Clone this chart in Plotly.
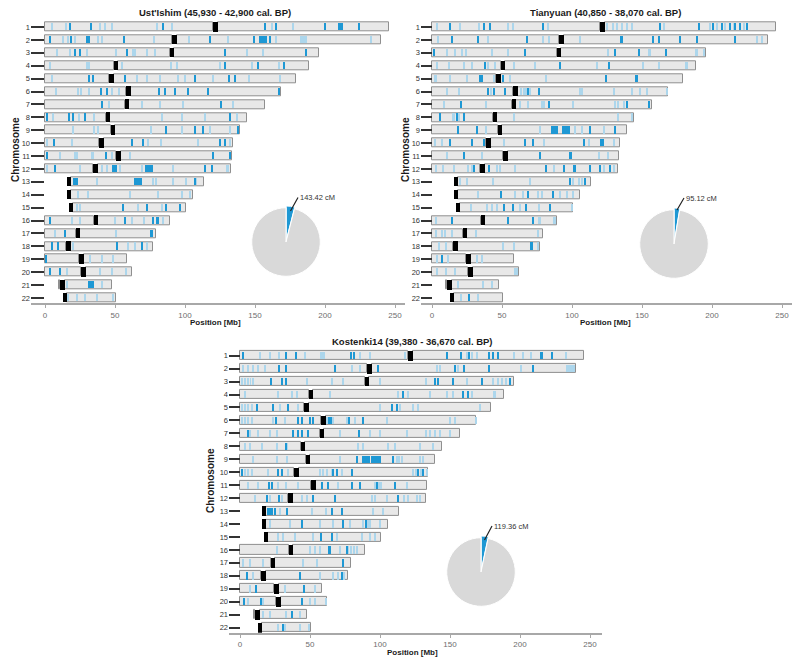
import plotly.graph_objects as go

# ---- chromosome layout (Mb) ----
CHROMS = list(range(1, 23))
CHR_START = [0] * 12 + [15.7, 15.7, 16.8, 0, 0, 0, 0, 0, 9.8, 12.8]
CHR_END = [246, 240, 195.5, 188.5, 179, 168.5, 157, 144, 139, 134, 133.5, 132.5,
           113.5, 105.5, 101, 89, 79.5, 77, 58.5, 62, 47.5, 50.5]
CEN_START = [120, 91, 89, 49, 46, 58, 57, 43.5, 47, 38.7, 51, 34.5,
             15.7, 15.7, 16.8, 34.8, 22, 15, 24.3, 26, 11, 12.8]
CEN_END = [123.4, 94.3, 92.3, 52.2, 49.2, 61.2, 60, 46.5, 50.2, 41.8, 54.2, 37.5,
           18.8, 18.8, 19.8, 37.8, 25.2, 18.5, 27.5, 29.6, 14, 15.8]

# ---- shared segments: single numbers = thin marks, tuples = (start, end) ----
UST_DARK = {
    1: [17.9, 32.6, 84.5, 157, 165, 200, (209.5, 213), 224],
    2: [3.6, 18.3, (29, 32), 56.4, 118, 149, (153, 158.3), 161],
    3: [21.4, 25, 58.8, 128.6, (186, 187)],
    4: [128.6, 152, 171],
    5: [31.7, 34, 57, 107, 131.7, (135, 136.6)],
    6: [40, 44, 81.7, 85.7, 93, 102, 116.7, 167],
    7: [40.5, 126],
    8: [1.2, 17, 19.8, 28.6, 132],
    9: [86.4, 107, 113, 137.6],
    10: [6.4, 62, 70, 125, 128.6],
    11: [1.2, 43.6, 120, 132],
    12: [7, (47.6, 51.2), (71.4, 77.4), 114, 119],
    13: [(20.2, 23.8), (63.8, 69), 107],
    14: [],
    15: [55.5, 72.6, (86, 87), 96.4],
    16: [3.6, 57, 77.4, (79.3, 81.7)],
    17: [14.3, (75, 77)],
    18: [4.8, 9.5, (51, 52.4), 69],
    19: [0.5],
    20: [3.6, 10.7],
    21: [(31, 35)],
    22: [],
}
UST_LIGHT = {
    1: [4.8, 14.8, 39.3, 42.9, 47.6, 79.8, 90.5, 162, 177],
    2: [13, 16.7, 21.4, 38, 41, 77.9, 103, 131, 165, (182, 187), 233],
    3: [8.3, 17.9, 30, 51, (62, 65), 72.6, 78.6, 144, 156],
    4: [3.6, (29, 32), 54.8, 90, 94, 125, 147.6, 167],
    5: [4.8, 65.5, 72.6, 82, 95, 100, 120, 146, 168],
    6: [7.9, 23.8, 26, 31.7, 47.6, 52.9],
    7: [46, 69, 82, 98.8, 134],
    8: [5.5, 24.3, 35, 83.8, 97.6, 114, 137],
    9: [20, 35, 38, 75.5, 97.6, 118, 132],
    10: [(0.7, 2.4), 19, 73.8, 83, 109.5, 132],
    11: [10.7, 21.4, 23, 33.3, 34.5, 47.6, 60.7],
    12: [1.2, (24, 26), 40.5, 44.5, 53.6, 69, 91.7, 130, 131],
    13: [37, 77.4, 79, 91.7, 101, 108],
    14: [23.8, 31, 60.7, 81, 97.6, 103.6],
    15: [22.6, 25, 66.7, 83.3],
    16: [19, 25, 50, 62, 70.7, 84.5],
    17: [7, 51],
    18: [20, 59.5, 64.3, 72.6],
    19: [32, 41, 48.8],
    20: [15.5, 39, 47.6, 58],
    21: [15.5, 40.5],
    22: [16.7, 23, 28.6, 37, 48.8],
}

TIAN_DARK = {
    1: [12.6, 37.4, 41.2, 79.3, 162.6, 191, 201, 207, 213, 216.7, 220, 225],
    2: [14.3, 32.6, 67.9, (134.5, 136.4), 157.9, 162, 177, 189, 216.7],
    3: [(1.2, 2.4), 66.7, 131, 147.6, 167.4],
    4: [38, 91.2, (125.5, 127.4)],
    5: [34.5, 35.7, 50.7, 124.3, (145, 147)],
    6: [39.8, 44, 52.4, 68.6, 76.2],
    7: [(20.2, 21.4), 83.3, 139, (154.8, 156)],
    8: [6, 17.9, 22.6],
    9: [18.3, 32, 85.7, 87, 88.3, 89.3, 93.6, 95, 96.4, 97.6, 113, 131],
    10: [13, 28.6, 36.9, 66.7, 72, 108.3, (120, 122.6)],
    11: [22.6, 77.4, (98, 100)],
    12: [29.8, 40.5, 81.4, 94.5, (101, 103), 112.6, 120, 127.4],
    13: [98.8, 109.5],
    14: [49.5, (67.9, 69), 86.4],
    15: [51.2, 57.9, (67, 67.9), (84, 84.5)],
    16: [14.3, 54, 72],
    17: [],
    18: [(70.7, 72)],
    19: [7],
    20: [],
    21: [],
    22: [26.2],
}
TIAN_LIGHT = {
    1: [3.6, 19.8, 33.8, 54, 57.9, 82.6, 125, 129, 132, 136, 139.5, 143,
        165.5, 198.8, 203.6, 209.5, 215.5, 222.6],
    2: [4, 39.8, 79.3, 83.3, 105.5, 232, 235.7],
    3: [10.7, 16.7, 21.4, 24.5, 42.9, 54, 125.5, 154.8, 156, (188, 190), 194.5],
    4: [3.6, 11.9, 22.6, 28.6, 39.8, 45, 58.3, 73.8, 117.9, 151, 162, (181, 183)],
    5: [(1.2, 3.6), 13, 25, 44, 56, 81.7],
    6: [10.7, 19, 42, 63.6, 65.5, 67.4, 70.2, 106, 107, 129.8, 142.9, 148.8, 153.6, 167.9],
    7: [8.3, 38.8, 63, 68.3, 78.6, 80.2, 101, 131, 133, 137],
    8: [(14.3, 16.5), 19.2, 58.3, 133, 142.9],
    9: [38.8, 77.4, 102, 107, 122.6],
    10: [2.4, 7, 51.2, 79.8, 112, 129.8],
    11: [10.7, 35.7, 119, 126],
    12: [3, 7.9, 15.5, 26, 28.6, 46.4, 48.8, 59.5, 87.4, 122.6, 129.8],
    13: [20.2, 25, 43.6, 70.2, 101, 104.8, 107],
    14: [32.9, 59.5, 65, 75.5, 78.6, 91.7, 96.4, 101],
    15: [27.9, 39.3, 42.9, 46.4, 62.6, 76.2, 100],
    16: [3, 76.2, 77.4, 86.9, 88],
    17: [3, 7, 9.5, 14.3, 31.7, 75.5],
    18: [4.8, 10.2, 50.7, 58.3, 75.5],
    19: [3.6, 11.4, 32, 35.7],
    20: [3.6, 10.2, 16.7, 59.5, 60.7],
    21: [18.3, 36.4, 42.9],
    22: [20.7, 32.6],
}

KOST_DARK = {
    1: [2.4, 32.9, 40, (78.6, 79.4), 81.4, 148, 157.6, 163.8, 178, 181, 184.5, (214, 216.7), 222.6],
    2: [28, 32.9, 67.9, 98.8, 153.6, 160.2, 177.6, 209.5],
    3: [21.9, 29.8, 32.9, 139.3, 141.7, 152.4, 172.6, 192.9],
    4: [116.7, 159.5, 163],
    5: [11.9, 23.8, (33.8, 35.2), 108.3, 111.9],
    6: [25.7, 41.7, 44, (49.5, 51), 52.4, 63.5, 65, 78, 88],
    7: [6, 38, 41.7, 44, 48.8, 85.2],
    8: [32.9],
    9: [83.3, 87.6, 89.3, 91, 92.5, 94, 95.5, 97, 98.5, 100, 109.5],
    10: [1.2, 27.4, 29.8, 66.7, 69, 79.8, 127.4, 131],
    11: [(20.2, 21), 22.6, 58.3, 63, 79.8, 85.7, 97.6, 110.7],
    12: [19, 28, 51.9, 67.9, 113],
    13: [20.2, 21.5, 23, 25, 33.8, 65.5, 72.6],
    14: [44, 73.3, 90],
    15: [57.6, 65.5],
    16: [(62.6, 64.8), 76.2],
    17: [73.8],
    18: [4.8, 42.9, 72.6],
    19: [11.4, 45.7],
    20: [3.1, 14.8, 44],
    21: [36.9],
    22: [31],
}
KOST_LIGHT = {
    1: [14.3, 21.4, 28, 46.4, (57, 60.7), 85.7, 92.9, 117.9, 161.9, 165.5, 169, 196, 202, 208, 233],
    2: [2.4, 6, 9.5, 13, 17.9, 79.8, 85.7, 140.5, 142.9, 155.5, 201, (233, 239)],
    3: [1.2, 3.5, 5.5, 7.5, 9.5, 47.6, 65.5, 73.8, 100, 133, 162, 181, 184, 187, 190],
    4: [3.6, 27.4, 36.9, 40.5, 64.3, 113, 120.2, 135.7, 147.6, 152.4, 165.5, (180.5, 183)],
    5: [1.2, 3.5, 6, 8.5, 28.6, 41.7, 100, 114, 123.8, 127.4, 171.4],
    6: [1.2, 3.5, 6, 8.3, 23.8, 32, 62, 66.7, 76.2, 82, 104.8, 150, 153.6, 168.6],
    7: [7.2, 13, 21.4, 26.2, 71.4, 92.9, 100, 119, 133, 136, 139, 143, 150],
    8: [3.6, 7, 15.5, 26.7, 33.8, 84.5, 88, 106, 110.7, 128.6, 138],
    9: [9.5, 26.2, 33.8, 71.4, 112, 113.8, 115.5, 128.6, 130.5],
    10: [3.6, 6, 8.3, 20.2, 34.5, 57, 59.5, 62, 65.5, 72.6, 123.8, 125.5, 129, 133.3],
    11: [6, 13, 27.4, 32.9, 41.7, 70.2, 96.4, 99, 101, 119],
    12: [10.7, 21.4, 29.8, 44, 47.6, 94, 96.4, 104.8, 117, 120.2, 126.2, 128.6],
    13: [28.6, 51.2, 61.4, 95.2, 102.4],
    14: [21.4, 35.7, 57, 66.7, 78.6, 88, 91.5, 92.9, 100],
    15: [27.4, 31, 39.3, 52.4, 69.5, 86.9, 92.9, 96.4],
    16: [26.2, 50, 53.6, 57, 71.4, 77.4, 79.5, 81.5, 83.3],
    17: [1.9, 7, 16.7, 45.2, 54.8],
    18: [9, 57, 66.7, 70.2, 74.3],
    19: [7, 32.1, 53.6],
    20: [6, 16.7, 50, 53.6, 61.4],
    21: [16.7, 21.4, 32.9, 42.9],
    22: [27.4, 32.1, 42.9, 49.5],
}

TITLES = ["Ust'Ishim (45,930 - 42,900 cal. BP)",
          "Tianyuan (40,850 - 38,070 cal. BP)",
          "Kostenki14 (39,380 - 36,670 cal. BP)"]
SHARED_CM = [143.42, 95.12, 119.36]
TOTAL_CM = 3600
X_TICKS = [0, 50, 100, 150, 200, 250]

FONT = "Liberation Sans, Arial, sans-serif"
GRAY_FILL, GRAY_LINE = "#e8e8e8", "#8f8f8f"
DARK_BLUE, LIGHT_BLUE = "#1e98d4", "#acd6ec"

# the page body has an 8px margin, so the figure is drawn 8px in from the window corner
OFF = 8
W, H = 800 - OFF, 663 - OFF


def px(x):
    return (x - OFF) / W


def py(y):
    return 1 - (y - OFF) / H


def marks(table, half):
    ys, bases, lens = [], [], []
    for c, items in table.items():
        for it in items:
            if isinstance(it, tuple):
                a, b = it
            else:
                a, b = it - half, it + half
            ys.append(c)
            bases.append(a)
            lens.append(b - a)
    return ys, bases, lens


def arms():
    ys, bases, lens = [], [], []
    for i, c in enumerate(CHROMS):
        if CEN_START[i] - CHR_START[i] > 0.2:
            ys.append(c)
            bases.append(CHR_START[i])
            lens.append(CEN_START[i] - CHR_START[i])
        ys.append(c)
        bases.append(CEN_END[i])
        lens.append(CHR_END[i] - CEN_END[i])
    return ys, bases, lens


# panel geometry in window pixels: left, right, zero-x, top, bottom, pie centre, label pos, arrow tip
PANELS = [
    dict(left=31, right=405, zero=45, top=19.3, bottom=303.1, ticklen=13,
         pie=(286, 242), lab=(298, 197.5), tip=(290.5, 211), ytitle=15, ycen=150),
    dict(left=421, right=795, zero=432, top=19.3, bottom=303.1, ticklen=11,
         pie=(674, 244), lab=(684, 198), tip=(677, 210), ytitle=405, ycen=150),
    dict(left=229, right=602, zero=240, top=347.9, bottom=632.8, ticklen=11,
         pie=(481, 572), lab=(492, 526), tip=(484.5, 540), ytitle=210, ycen=480),
]
DATA = [(UST_DARK, UST_LIGHT), (TIAN_DARK, TIAN_LIGHT), (KOST_DARK, KOST_LIGHT)]

fig = go.Figure()
annotations = []
R = 36

for k, (p, (dark, light)) in enumerate(zip(PANELS, DATA)):
    xa = "x" if k == 0 else "x%d" % (k + 1)
    ya = "y" if k == 0 else "y%d" % (k + 1)

    y, b, l = arms()
    fig.add_trace(go.Bar(orientation="h", y=y, x=l, base=b, width=0.7, xaxis=xa, yaxis=ya,
                         marker=dict(color=GRAY_FILL, line=dict(color=GRAY_LINE, width=1)),
                         hoverinfo="skip", showlegend=False))
    y, b, l = marks(light, 0.3)
    fig.add_trace(go.Bar(orientation="h", y=y, x=l, base=b, width=0.56, xaxis=xa, yaxis=ya,
                         marker=dict(color=LIGHT_BLUE, line=dict(width=0)),
                         hoverinfo="skip", showlegend=False))
    y, b, l = marks(dark, 0.4)
    fig.add_trace(go.Bar(orientation="h", y=y, x=l, base=b, width=0.56, xaxis=xa, yaxis=ya,
                         marker=dict(color=DARK_BLUE, line=dict(width=0)),
                         hoverinfo="skip", showlegend=False))
    fig.add_trace(go.Bar(orientation="h", y=CHROMS,
                         x=[e - s for s, e in zip(CEN_START, CEN_END)], base=CEN_START,
                         width=0.74, xaxis=xa, yaxis=ya,
                         marker=dict(color="black", line=dict(width=0)),
                         hoverinfo="skip", showlegend=False))

    # pie of shared genetic length
    cx, cy = p["pie"]
    fig.add_trace(go.Pie(values=[SHARED_CM[k], TOTAL_CM - SHARED_CM[k]],
                         domain=dict(x=[px(cx - R), px(cx + R)], y=[py(cy + R), py(cy - R)]),
                         marker=dict(colors=[DARK_BLUE, "#d9d9d9"], line=dict(color="white", width=1)),
                         pull=[0.05, 0], sort=False, direction="clockwise", rotation=0,
                         textinfo="none", hoverinfo="skip", showlegend=False))

    xr0 = (p["left"] - p["zero"]) / 1.4
    xr1 = (p["right"] - p["zero"]) / 1.4
    xkey = "xaxis" if k == 0 else "xaxis%d" % (k + 1)
    ykey = "yaxis" if k == 0 else "yaxis%d" % (k + 1)
    fig.layout[xkey] = dict(domain=[px(p["left"]), min(1, px(p["right"]))], range=[xr0, xr1],
                            anchor=ya, automargin=False, showgrid=False, zeroline=False,
                            showline=True, linecolor="#a8a8a8", linewidth=2, ticks="outside",
                            ticklen=3, tickcolor="#a8a8a8", tickvals=X_TICKS,
                            tickfont=dict(size=8, color="#6e6e6e", family=FONT))
    fig.layout[ykey] = dict(domain=[py(p["bottom"]), py(p["top"])], range=[22.4, 0.4],
                            anchor=xa, automargin=False, showgrid=False, zeroline=False,
                            showline=False, ticks="inside", ticklen=p["ticklen"], tickwidth=1.5,
                            tickcolor="#333", tickvals=CHROMS,
                            ticktext=[str(c) for c in CHROMS],
                            tickfont=dict(size=7.5, color="#333", family=FONT))

    mid = (p["left"] + p["right"]) / 2 - 3
    annotations += [
        dict(text="<b>%s</b>" % TITLES[k], x=px(mid), y=py(p["top"] - 6.5), xref="paper",
             yref="paper", xanchor="center", yanchor="middle", showarrow=False,
             font=dict(size=9.5, color="#1a1a1a", family=FONT)),
        dict(text="<b>Position [Mb]</b>", x=px(mid), y=py(p["bottom"] + 19.5), xref="paper",
             yref="paper", xanchor="center", yanchor="middle", showarrow=False,
             font=dict(size=8, color="#1a1a1a", family=FONT)),
        dict(text="<b>Chromosome</b>", x=px(p["ytitle"]), y=py(p["ycen"]), xref="paper",
             yref="paper", xanchor="center", yanchor="middle", showarrow=False,
             textangle=-90, font=dict(size=10, color="#1a1a1a", family=FONT)),
        dict(text="%.2f cM" % SHARED_CM[k], x=px(p["tip"][0]), y=py(p["tip"][1]),
             xref="paper", yref="paper", showarrow=True, arrowhead=0, arrowwidth=1.2,
             arrowcolor="#222", ax=p["lab"][0] - p["tip"][0], ay=p["lab"][1] - p["tip"][1],
             xanchor="left", yanchor="middle",
             font=dict(size=7.5, color="#333", family=FONT)),
    ]

fig.update_layout(width=W, height=H, margin=dict(l=0, r=0, t=0, b=0), autosize=False,
                  barmode="overlay", bargap=0, plot_bgcolor="white", paper_bgcolor="white",
                  annotations=annotations, font=dict(family=FONT))
fig.write_html("out.html")
